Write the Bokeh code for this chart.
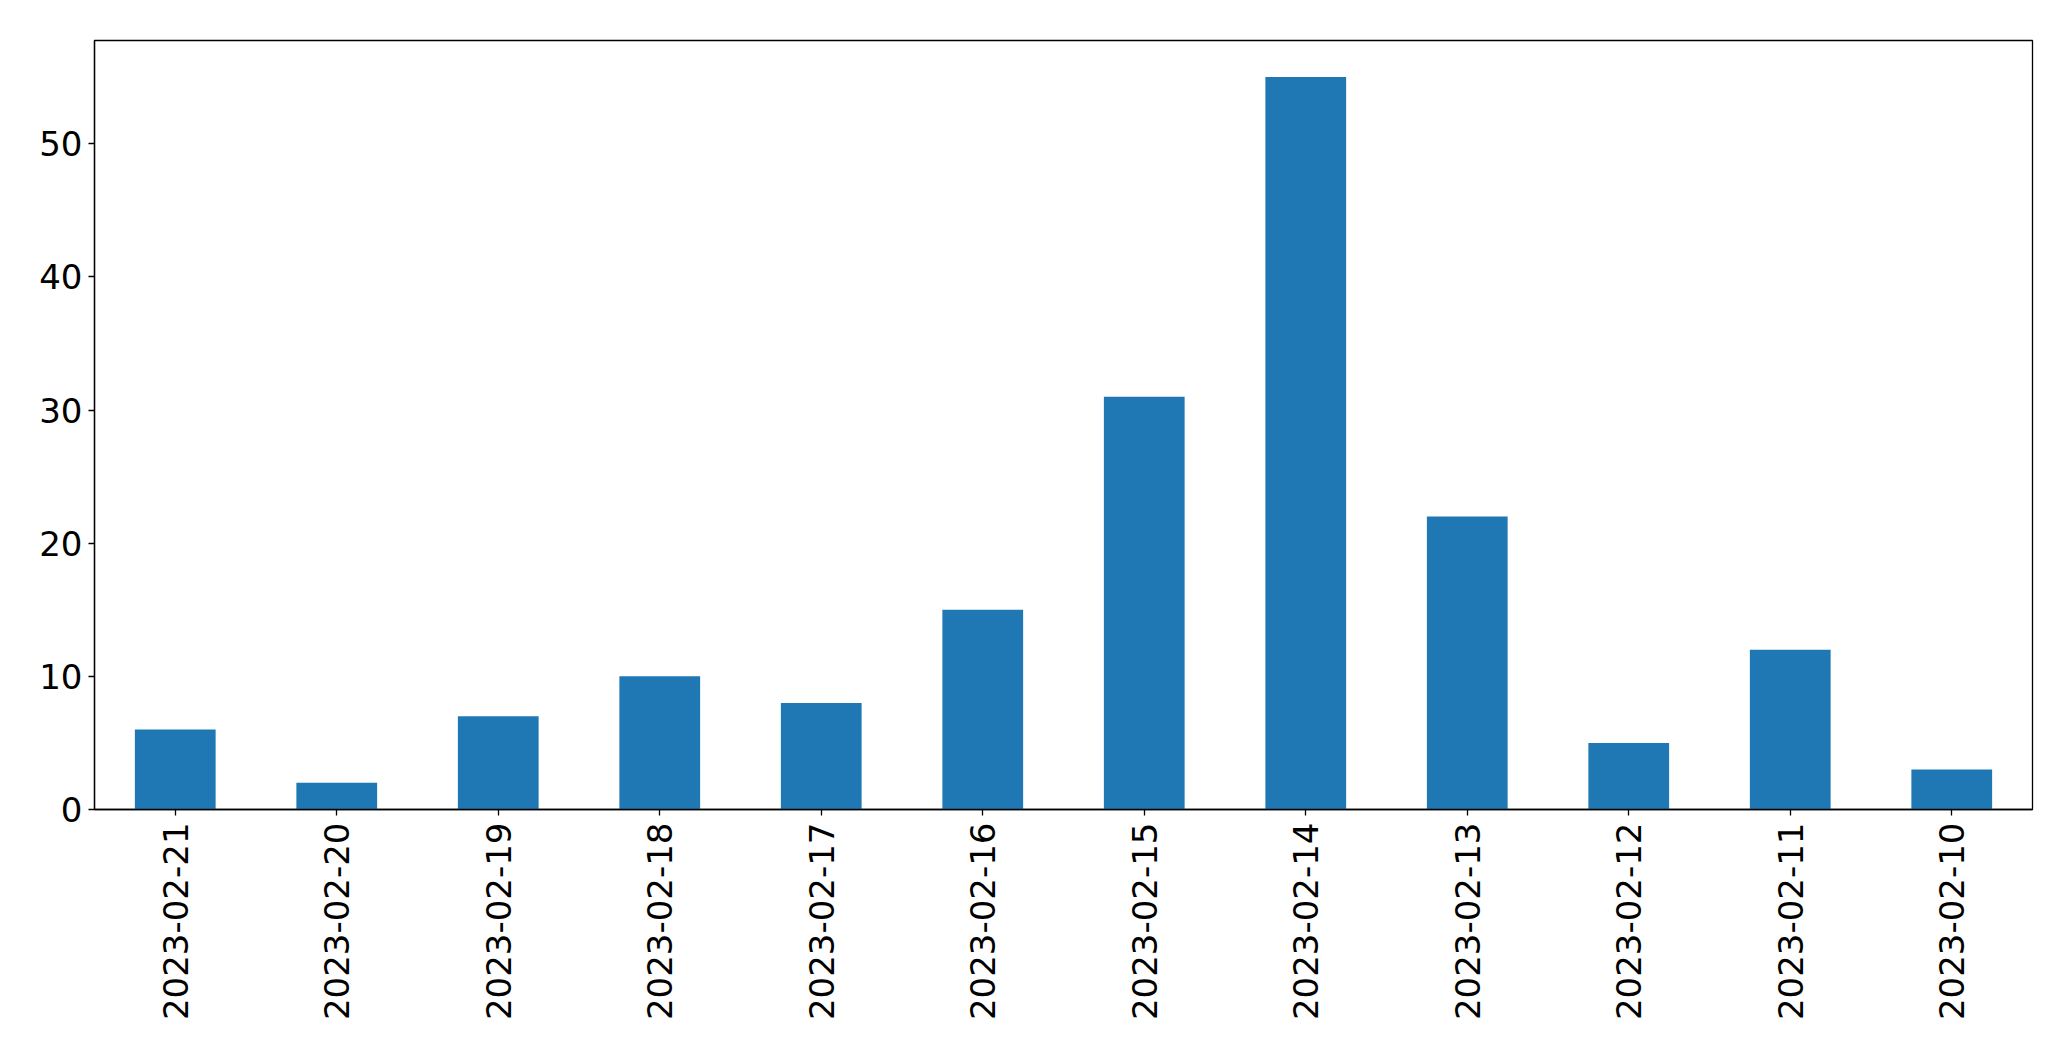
import math
from bokeh.plotting import figure
from bokeh.models import FactorRange, Range1d, FixedTicker, ColumnDataSource
from bokeh.embed import file_html
from bokeh.resources import INLINE

dates = ["2023-02-21", "2023-02-20", "2023-02-19", "2023-02-18", "2023-02-17", "2023-02-16",
         "2023-02-15", "2023-02-14", "2023-02-13", "2023-02-12", "2023-02-11", "2023-02-10"]
counts = [6, 2, 7, 10, 8, 15, 31, 55, 22, 5, 12, 3]
y_ticks = [0, 10, 20, 30, 40, 50]

src = ColumnDataSource(dict(x=dates, top=counts))

p = figure(width=2063, height=1053, output_backend="svg", toolbar_location=None,
           x_range=FactorRange(*dates, range_padding=0),
           y_range=Range1d(0, max(counts) * 1.05),
           min_border_left=94, min_border_top=40, min_border_right=31, min_border_bottom=244)
p.x_range.factor_padding = 0
p.vbar(x="x", top="top", width=0.5, source=src, color="#1f77b4", line_color=None)

p.xgrid.visible = False
p.ygrid.visible = False
p.outline_line_color = "black"
p.outline_line_width = 1.3
p.background_fill_color = "white"
p.border_fill_color = "white"

for ax in (p.xaxis[0], p.yaxis[0]):
    ax.major_label_text_font = "DejaVu Sans"
    ax.major_label_text_font_size = "34px"
    ax.major_label_text_color = "black"
    ax.major_tick_out = 6
    ax.major_tick_in = 0
    ax.minor_tick_out = 0
    ax.minor_tick_in = 0
    ax.axis_line_color = "black"
    ax.axis_line_width = 1.3
    ax.major_tick_line_width = 1.3
    ax.major_tick_line_color = "black"

p.yaxis.ticker = FixedTicker(ticks=y_ticks)
p.yaxis.major_label_standoff = 6
p.xaxis.major_label_orientation = math.pi / 2
p.xaxis.major_label_standoff = 7
p.xaxis.group_text_font_size = "0px"

open("out.html", "w").write(file_html(p, INLINE))
